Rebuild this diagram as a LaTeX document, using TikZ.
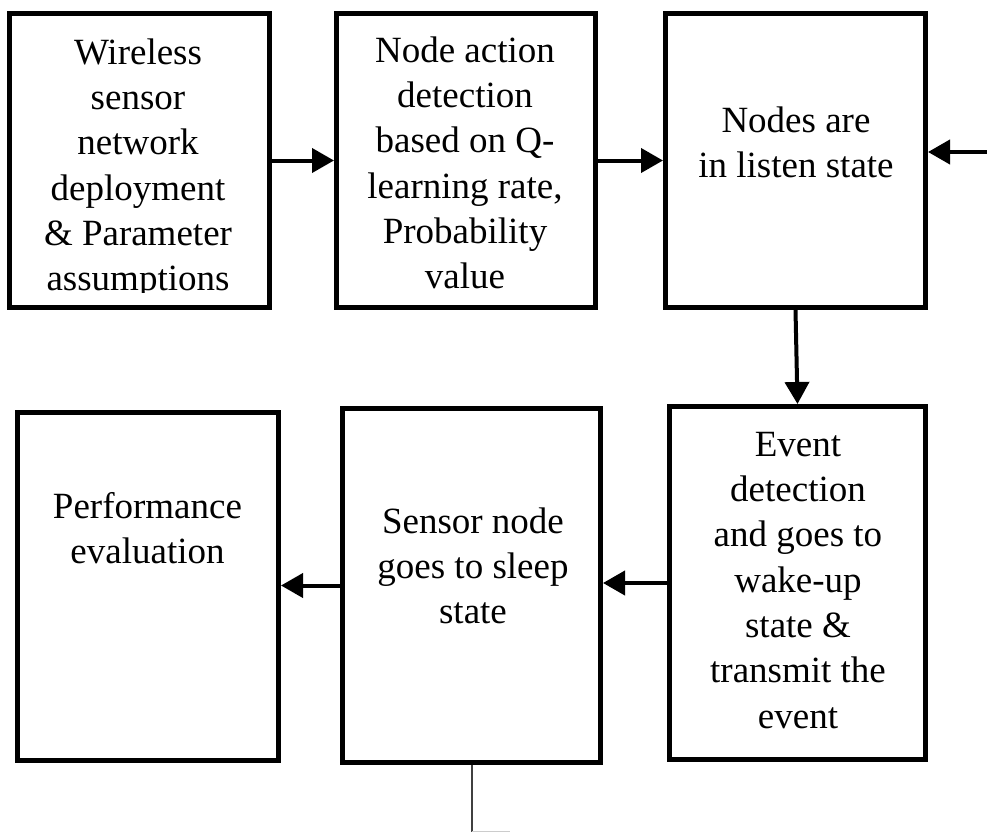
\documentclass[tikz,border=0pt]{standalone}
\usepackage{fontspec}
\setmainfont{Liberation Serif}
\usetikzlibrary{arrows.meta}
\newcommand{\Tstrut}{\rule{0pt}{30pt}}
\begin{document}
\begin{tikzpicture}[x=1pt,y=-1pt,
  box/.style={draw=black,line width=5pt,inner sep=0pt},
  txt/.style={anchor=north,inner sep=0pt,align=center,text=black,
    font=\fontsize{37}{45.3}\selectfont},
  arr/.style={draw=black,line width=4pt,-{Triangle[length=22pt,width=24pt]}}]
\useasboundingbox (0,0) rectangle (987,832);
% boxes
\node[box,minimum width=260pt,minimum height=294pt] (b1) at (139.5,160.5) {};
\node[box,minimum width=259pt,minimum height=294pt] (b2) at (466,160.5) {};
\node[box,minimum width=260pt,minimum height=294pt] (b3) at (795.5,160.5) {};
\node[box,minimum width=256pt,minimum height=353pt] (b4) at (797.5,583) {};
\node[box,minimum width=258pt,minimum height=354pt] (b5) at (471.5,585.5) {};
\node[box,minimum width=261pt,minimum height=348pt] (b6) at (148,586.5) {};
% texts
\begin{scope}
\clip (0,0) rectangle (987,292);
\node[txt] (t1) at (138,34) {\Tstrut Wireless\\sensor\\network\\deployment\\\& Parameter\\assumptions};
\end{scope}
\node[txt] (t2) at (465,32) {\Tstrut Node action\\detection\\based on Q-\\learning rate,\\Probability\\value};
\node[txt] (t3) at (796,102) {\Tstrut Nodes are\\in listen state};
\node[txt] (t4) at (798,426) {\Tstrut Event\\detection\\and goes to\\wake-up\\state \&\\transmit the\\event};
\node[txt] (t5) at (473,503) {\Tstrut Sensor node\\goes to sleep\\state};
\node[txt] (t6) at (147.5,488) {\Tstrut Performance\\evaluation};
% connectors
\coordinate (in3) at (987,152);
\coordinate (c1) at (472,832);
\coordinate (c2) at (510,831);
\draw[arr] (b1.east) -- (b2.west);
\draw[arr] (b2.east) -- (b3.west);
\draw[arr] (in3) -- (in3 -| b3.east);
\draw[arr] (b3.south) -- (b4.north);
\draw[arr] (b4.west) -- (b4.west -| b5.east);
\draw[arr] (b5.west) -- (b5.west -| b6.east);
\draw[line width=2pt,black!75] (b5.south) -- (b5.south |- c1);
\draw[line width=1pt,black!20] (b5.south |- c2) -- (c2);
\end{tikzpicture}
\end{document}
